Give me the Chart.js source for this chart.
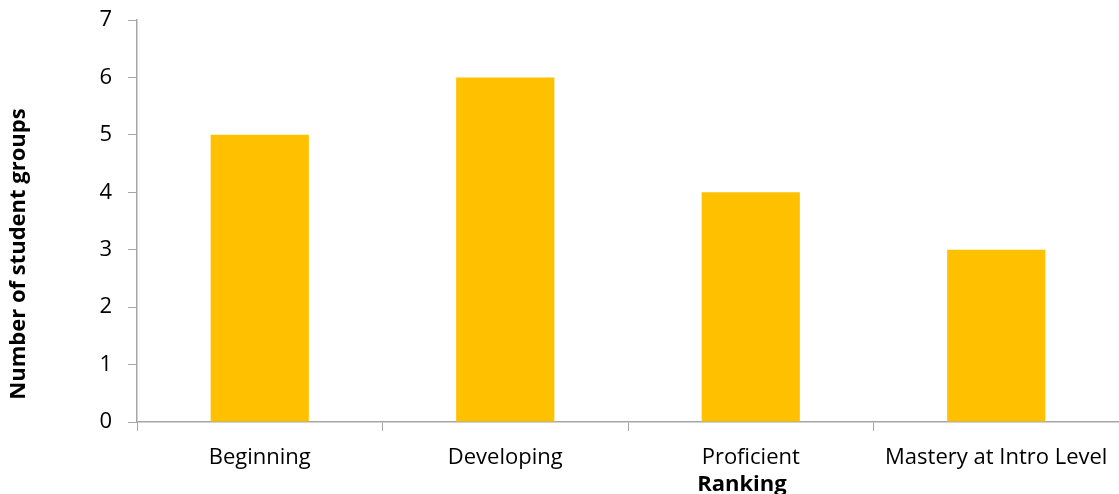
<!DOCTYPE html>
<html>
<head>
<meta charset="utf-8">
<title>Student groups by ranking</title>
<script src="https://cdn.jsdelivr.net/npm/chart.js@4/dist/chart.umd.min.js"></script>
<style>
  html, body { margin: 0; padding: 0; background: #fff; }
  #wrap { width: 1119px; height: 494px; position: relative; }
</style>
</head>
<body>
<div id="wrap"><canvas id="rankChart"></canvas></div>
<script>
/* ── data ───────────────────────────────────── */
var rankings = ['Beginning', 'Developing', 'Proficient', 'Mastery at Intro Level'];
var groupCounts = [5, 6, 4, 3];
var yTicks = [0, 1, 2, 3, 4, 5, 6, 7];

var axisGrey = '#a6a6a6';
var fontFace = "'Open Sans', sans-serif";

/* axis titles sit off-centre, so they are painted by hand */
var axisTitles = {
  id: 'axisTitles',
  afterDraw: function (chart) {
    var ctx = chart.ctx, a = chart.chartArea;
    ctx.save();
    ctx.fillStyle = '#000';
    ctx.font = 'bold 22px ' + fontFace;
    ctx.textAlign = 'center';
    ctx.textBaseline = 'middle';
    ctx.fillText('Ranking', a.left + (a.right - a.left) * 0.616, 485);
    ctx.translate(19, 254);
    ctx.rotate(-Math.PI / 2);
    ctx.fillText('Number of student groups', 0, 0);
    ctx.restore();
  }
};

new Chart(document.getElementById('rankChart'), {
  type: 'bar',
  data: {
    labels: rankings,
    datasets: [{
      data: groupCounts,
      backgroundColor: '#ffc000',
      borderWidth: 0,
      categoryPercentage: 1,
      barPercentage: 0.4
    }]
  },
  options: {
    responsive: true,
    maintainAspectRatio: false,
    animation: false,
    layout: { padding: { top: 20, right: 0, left: 0, bottom: 0 } },
    plugins: { legend: { display: false }, tooltip: { enabled: false } },
    scales: {
      x: {
        offset: true,
        grid: { offset: true, drawOnChartArea: false, color: axisGrey, tickLength: 9 },
        border: { color: axisGrey, width: 1.5 },
        ticks: { color: '#000', font: { family: fontFace, size: 22 }, padding: 14, maxRotation: 0 },
        afterFit: function (s) { s.height = 72; s.paddingLeft = 0; s.paddingRight = 0; }
      },
      y: {
        min: 0, max: 7,
        afterBuildTicks: function (s) { s.ticks = yTicks.map(function (v) { return { value: v }; }); },
        grid: { drawOnChartArea: false, color: axisGrey, tickLength: 9 },
        border: { color: axisGrey, width: 1.5 },
        ticks: { color: '#000', font: { family: fontFace, size: 22 }, padding: 16 },
        afterFit: function (s) { s.width = 137; s.paddingTop = 0; s.paddingBottom = 0; }
      }
    }
  },
  plugins: [axisTitles]
});
</script>
</body>
</html>
